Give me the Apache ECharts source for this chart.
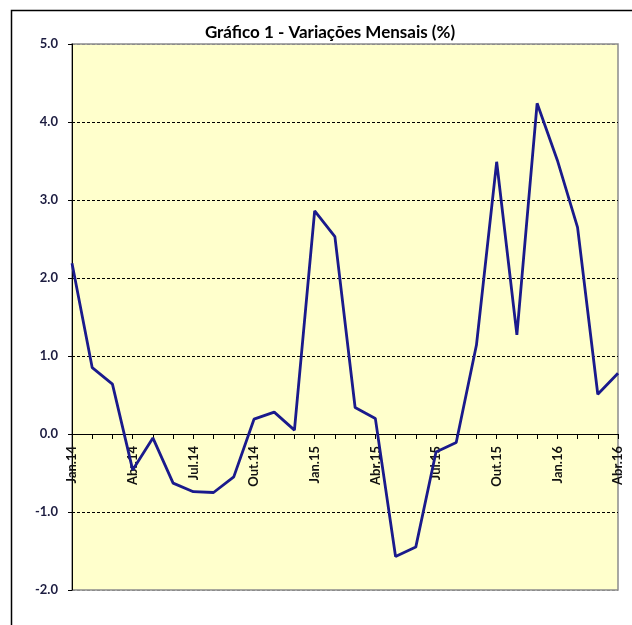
<!DOCTYPE html>
<html>
<head>
<meta charset="utf-8">
<script src="https://cdn.jsdelivr.net/npm/echarts@6/dist/echarts.min.js"></script>
<style>html,body{margin:0;padding:0;background:#fff;}#c{width:632px;height:625px;}</style>
</head>
<body>
<div id="c"></div>
<script>
var categories = ['Jan.14','Fev.14','Mar.14','Abr.14','Mai.14','Jun.14','Jul.14','Ago.14','Set.14','Out.14','Nov.14','Dez.14',
  'Jan.15','Fev.15','Mar.15','Abr.15','Mai.15','Jun.15','Jul.15','Ago.15','Set.15','Out.15','Nov.15','Dez.15',
  'Jan.16','Fev.16','Mar.16','Abr.16'];
var values = [2.19, 0.85, 0.64, -0.46, -0.05, -0.63, -0.74, -0.75, -0.55, 0.19, 0.28, 0.05,
  2.86, 2.53, 0.34, 0.20, -1.57, -1.45, -0.23, -0.11, 1.14, 3.49, 1.27, 4.24,
  3.51, 2.65, 0.51, 0.78];
var titleText = 'Gráfico 1 - Variações Mensais (%)';
var yMin = -2, yMax = 5, yStep = 1;

var W = 632, H = 625;
var gridTop = 44, gridBottom = 35;
var gridH = H - gridTop - gridBottom;
var zeroOffset = -((0 - yMin) / (yMax - yMin)) * gridH;

var chart = echarts.init(document.getElementById('c'), null, {renderer: 'canvas'});
chart.setOption({
  backgroundColor: '#ffffff',
  animation: false,
  title: {
    text: titleText,
    left: 325, top: 19, textAlign: 'center',
    textStyle: {fontFamily: 'Lato', fontWeight: 'bold', fontSize: 17, color: '#000'}
  },
  graphic: [{
    type: 'rect', left: 9, top: 8, silent: true,
    shape: {width: 700, height: 700},
    style: {fill: 'none', stroke: '#000', lineWidth: 1.5}
  }],
  grid: {
    left: 72, top: gridTop, right: 14, bottom: gridBottom,
    outerBoundsMode: 'none', containLabel: false,
    show: true, backgroundColor: '#FFFFCC', borderColor: '#8c8c8c', borderWidth: 1.5
  },
  xAxis: {
    type: 'category', data: categories, boundaryGap: false,
    position: 'bottom', offset: zeroOffset, z: 1,
    axisLine: {onZero: false, lineStyle: {color: '#000', width: 1}},
    axisTick: {show: true, interval: 0, length: 5, lineStyle: {color: '#000'}},
    axisLabel: {interval: 2, rotate: 90, margin: 12, hideOverlap: false, fontFamily: 'Lato', fontWeight: 'bold', fontSize: 13, color: '#111'},
    splitLine: {show: false}
  },
  yAxis: {
    type: 'value', min: yMin, max: yMax, interval: yStep,
    axisLine: {show: true, onZero: false, lineStyle: {color: '#000', width: 1}},
    axisTick: {show: true, length: 4, lineStyle: {color: '#000'}},
    axisLabel: {margin: 14, fontFamily: 'Lato', fontWeight: 'bold', fontSize: 13, color: '#1c1c40',
      formatter: function (v) { return v.toFixed(1); }},
    splitLine: {show: true, lineStyle: {type: [3, 2], width: 1,
      color: ['#8c8c8c', '#000', '#000', '#000', '#000', '#000', '#000', '#8c8c8c']}}
  },
  series: [{
    type: 'line', data: values, symbol: 'none', z: 5,
    lineStyle: {color: '#1a1a8c', width: 2.8},
    itemStyle: {color: '#1a1a8c'}
  }]
});
</script>
</body>
</html>
